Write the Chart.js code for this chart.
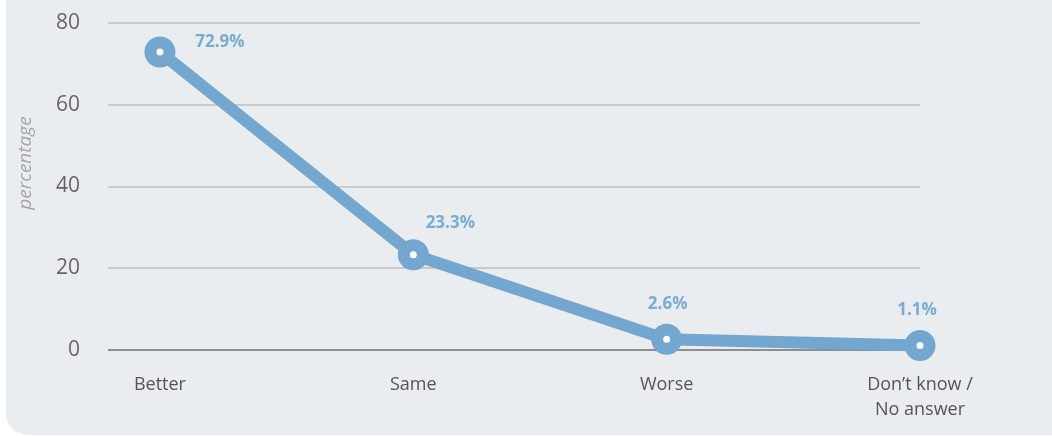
<!DOCTYPE html>
<html>
<head>
<meta charset="utf-8">
<script src="https://cdn.jsdelivr.net/npm/chart.js@4"></script>
<style>
  html, body { margin: 0; padding: 0; background: #ffffff; overflow: hidden; }
  #panel {
    position: absolute; left: 6px; top: -40px; width: 1100px; height: 475px;
    background: #e9edef; border-radius: 22px;
  }
  #wrap { position: absolute; left: 0; top: 0; width: 1052px; height: 436px; }
</style>
</head>
<body>
<div id="panel"></div>
<div id="wrap"><canvas id="chartRespuesta"></canvas></div>
<script>
var categorias = [['Better'], ['Same'], ['Worse'], ['Don\u2019t know /', 'No answer']];
var porcentajes = [72.9, 23.3, 2.6, 1.1];
var ticksY = [0, 20, 40, 60, 80];

var azul = '#74a7d0';

// etiquetas de valor sobre cada punto
var etiquetasPlugin = {
    id: 'etiquetas',
    afterDatasetsDraw: function (chart, args, opts) {
        var ctx = chart.ctx;
        var meta = chart.getDatasetMeta(0);
        ctx.save();
        ctx.font = 'bold 17px "Open Sans", sans-serif';
        ctx.fillStyle = '#7aabd4';
        ctx.textAlign = 'center';
        ctx.textBaseline = 'middle';
        meta.data.forEach(function (pt, i) {
            var d = opts.desplazamientos[i] || [0, -35];
            ctx.fillText(porcentajes[i].toFixed(1) + '%', pt.x + d[0], pt.y + d[1]);
        });
        ctx.restore();
    }
};

// titulo del eje y
var tituloYPlugin = {
    id: 'tituloY',
    afterDraw: function (chart) {
        var ctx = chart.ctx;
        ctx.save();
        ctx.translate(26, 163);
        ctx.rotate(-Math.PI / 2);
        ctx.font = 'italic 19px "Open Sans", sans-serif';
        ctx.fillStyle = '#a4a6a8';
        ctx.textAlign = 'center';
        ctx.textBaseline = 'middle';
        ctx.fillText('percentage', 0, 0);
        ctx.restore();
    }
};

var puntos = porcentajes.map(function (v, i) { return { x: i, y: v }; });

new Chart(document.getElementById('chartRespuesta'), {
    type: 'line',
    data: {
        datasets: [{
            data: puntos,
            borderColor: azul,
            borderWidth: 12,
            pointRadius: 9.5,
            pointHoverRadius: 9.5,
            pointBorderWidth: 12,
            pointBackgroundColor: '#ffffff',
            pointBorderColor: azul,
            tension: 0,
            clip: false
        }]
    },
    options: {
        responsive: true,
        maintainAspectRatio: false,
        animation: false,
        layout: { padding: { left: 0, right: 132, top: 23, bottom: 0 } },
        plugins: {
            legend: { display: false },
            tooltip: { enabled: false },
            etiquetas: { desplazamientos: [[60, -10], [37, -32], [1, -35], [-3, -35]] }
        },
        scales: {
            x: {
                type: 'linear',
                min: -0.205,
                max: 3,
                afterBuildTicks: function (s) {
                    s.ticks = categorias.map(function (c, i) { return { value: i }; });
                },
                afterFit: function (s) {
                    s.height = 86;
                    s.paddingLeft = 0; s.paddingRight = 0; s.paddingTop = 0; s.paddingBottom = 0;
                },
                grid: { display: false, drawTicks: false },
                border: { display: false },
                ticks: {
                    padding: 22,
                    color: '#555555',
                    font: { family: '"Open Sans", sans-serif', size: 18, lineHeight: 1.4 },
                    maxRotation: 0,
                    autoSkip: false,
                    callback: function (v) { return categorias[v]; }
                }
            },
            y: {
                min: 0,
                max: 80,
                afterBuildTicks: function (s) {
                    s.ticks = ticksY.map(function (v) { return { value: v }; });
                },
                afterFit: function (s) {
                    s.width = 108;
                    s.paddingTop = 0; s.paddingBottom = 0; s.paddingLeft = 0; s.paddingRight = 0;
                },
                border: { display: false },
                grid: {
                    drawTicks: false,
                    lineWidth: 2,
                    color: function (c) { return c.tick && c.tick.value === 0 ? '#8d8e8f' : '#c9cbcc'; }
                },
                ticks: {
                    padding: 28,
                    color: '#666666',
                    font: { family: '"Open Sans", sans-serif', size: 21 }
                }
            }
        }
    },
    plugins: [etiquetasPlugin, tituloYPlugin]
});
</script>
</body>
</html>
